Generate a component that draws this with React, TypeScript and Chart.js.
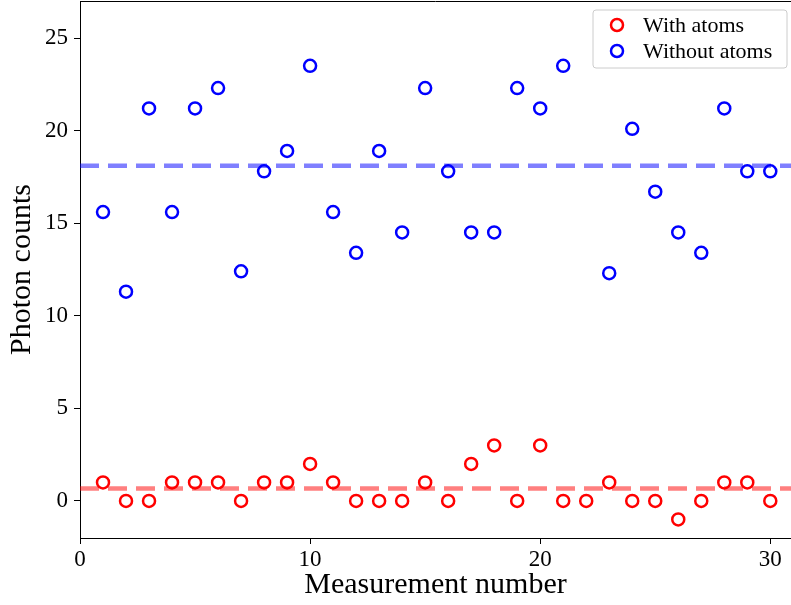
import { useEffect, useRef } from 'react';
import { Chart, registerables } from 'chart.js';

Chart.register(...registerables);

const measurement = [1, 2, 3, 4, 5, 6, 7, 8, 9, 10, 11, 12, 13, 14, 15, 16, 17, 18, 19, 20, 21, 22, 23, 24, 25, 26, 27, 28, 29, 30];
const withAtoms = [1, 0, 0, 1, 1, 1, 0, 1, 1, 2, 1, 0, 0, 0, 1, 0, 2, 3, 0, 3, 0, 0, 1, 0, 0, -1, 0, 1, 1, 0];
const withoutAtoms: (number | null)[] = [15.6, 11.3, 21.2, 15.6, 21.2, 22.3, 12.4, 17.8, 18.9, 23.5, 15.6, 13.4, 18.9, 14.5, 22.3, 17.8, 14.5, 14.5, 22.3, 21.2, 23.5, null, 12.3, 20.1, 16.7, 14.5, 13.4, 21.2, 17.8, 17.8];
const meanWith = 0.67;
const meanWithout = 18.1;
const xTicks = [0, 10, 20, 30];
const yTicks = [0, 5, 10, 15, 20, 25];
const seriesLabels = ['With atoms', 'Without atoms'];
const xRange = [0, 30.9];
const yRange = [-2, 27];

const FONT = "'Liberation Serif', 'DejaVu Serif', serif";
const RED = '#ff0000';
const BLUE = '#0000ff';

const legendPlugin = {
  id: 'boxLegend',
  afterDraw(chart: any) {
    const ctx = chart.ctx;
    const x0 = 593, y0 = 10, w = 194, h = 58;
    ctx.save();
    ctx.beginPath();
    const r = 3;
    ctx.moveTo(x0 + r, y0);
    ctx.arcTo(x0 + w, y0, x0 + w, y0 + h, r);
    ctx.arcTo(x0 + w, y0 + h, x0, y0 + h, r);
    ctx.arcTo(x0, y0 + h, x0, y0, r);
    ctx.arcTo(x0, y0, x0 + w, y0, r);
    ctx.closePath();
    ctx.fillStyle = 'rgba(255,255,255,0.8)';
    ctx.fill();
    ctx.strokeStyle = '#cccccc';
    ctx.lineWidth = 1;
    ctx.stroke();
    const colors = [RED, BLUE];
    seriesLabels.forEach((lab, i) => {
      const cy = y0 + 15 + i * 26;
      ctx.beginPath();
      ctx.arc(x0 + 24, cy, 6, 0, Math.PI * 2);
      ctx.strokeStyle = colors[i];
      ctx.lineWidth = 2.5;
      ctx.stroke();
      ctx.fillStyle = '#000';
      ctx.font = `22px ${FONT}`;
      ctx.textBaseline = 'middle';
      ctx.textAlign = 'left';
      ctx.fillText(lab, x0 + 50, cy + 1);
    });
    ctx.restore();
  },
};

const framePlugin = {
  id: 'frame',
  afterDatasetsDraw(chart: any) {
    const { ctx, chartArea } = chart;
    ctx.save();
    ctx.strokeStyle = '#000';
    ctx.lineWidth = 1;
    ctx.beginPath();
    ctx.moveTo(chartArea.left, chartArea.top + 0.5);
    ctx.lineTo(chartArea.right, chartArea.top + 0.5);
    ctx.stroke();
    ctx.restore();
  },
};

const bgPlugin = {
  id: 'bg',
  beforeDraw(chart: any) {
    const ctx = chart.ctx;
    ctx.save();
    ctx.fillStyle = '#fff';
    ctx.fillRect(0, 0, chart.width, chart.height);
    ctx.restore();
  },
};

export default function App() {
  const ref = useRef<HTMLCanvasElement | null>(null);
  useEffect(() => {
    document.body.style.margin = '0';
    if (!ref.current) return;
    const chart = new Chart(ref.current, {
      type: 'scatter',
      data: {
        datasets: [
          {
            label: seriesLabels[0],
            data: measurement.map((m, i) => ({ x: m, y: withAtoms[i] })),
            borderColor: RED,
            backgroundColor: 'rgba(0,0,0,0)',
            pointRadius: 6,
            pointBorderWidth: 2.5,
            order: 1,
          },
          {
            label: seriesLabels[1],
            data: measurement.map((m, i) => ({ x: m, y: withoutAtoms[i] })).filter((p) => p.y !== null) as any,
            borderColor: BLUE,
            backgroundColor: 'rgba(0,0,0,0)',
            pointRadius: 6,
            pointBorderWidth: 2.5,
            order: 1,
          },
          {
            type: 'line',
            label: 'mean with',
            data: [{ x: xRange[0], y: meanWith }, { x: 31, y: meanWith }],
            borderColor: 'rgba(255,0,0,0.5)',
            borderWidth: 4.5,
            borderDash: [19, 9],
            pointRadius: 0,
            order: 2,
          } as any,
          {
            type: 'line',
            label: 'mean without',
            data: [{ x: xRange[0], y: meanWithout }, { x: 31, y: meanWithout }],
            borderColor: 'rgba(0,0,255,0.5)',
            borderWidth: 4.5,
            borderDash: [19, 9],
            pointRadius: 0,
            order: 2,
          } as any,
        ],
      },
      options: {
        animation: false,
        responsive: false,
        layout: { autoPadding: false, padding: { top: 1, right: 0, left: 0, bottom: 0 } },
        plugins: { legend: { display: false }, tooltip: { enabled: false } },
        scales: {
          x: {
            type: 'linear',
            min: xRange[0],
            max: xRange[1],
            afterBuildTicks: (s: any) => { s.ticks = xTicks.map((v) => ({ value: v })); },
            afterFit: (s: any) => { s.height = 67; s.paddingLeft = 0; s.paddingRight = 0; },
            grid: { display: true, drawOnChartArea: false, drawTicks: true, tickLength: 6, color: '#000', lineWidth: 1 },
            border: { display: true, color: '#000', width: 1 },
            ticks: { color: '#000', font: { family: FONT, size: 23 }, padding: 2, maxRotation: 0 },
            title: { display: true, text: 'Measurement number', color: '#000', font: { family: FONT, size: 30 }, padding: { top: 0, bottom: 2 } },
          },
          y: {
            type: 'linear',
            min: yRange[0],
            max: yRange[1],
            afterBuildTicks: (s: any) => { s.ticks = yTicks.map((v) => ({ value: v })); },
            afterFit: (s: any) => { s.width = 80; s.paddingTop = 0; s.paddingBottom = 0; },
            grid: { display: true, drawOnChartArea: false, drawTicks: true, tickLength: 6, color: '#000', lineWidth: 1 },
            border: { display: true, color: '#000', width: 1 },
            ticks: { color: '#000', font: { family: FONT, size: 23 }, padding: 6 },
            title: { display: true, text: 'Photon counts', color: '#000', font: { family: FONT, size: 30 }, padding: { top: 4, bottom: 0 } },
          },
        },
      },
      plugins: [bgPlugin, framePlugin, legendPlugin],
    });
    return () => chart.destroy();
  }, []);
  return (
    <div style={{ width: 791, height: 605 }}>
      <canvas ref={ref} width={791} height={605} style={{ display: 'block', width: 791, height: 605 }} />
    </div>
  );
}
